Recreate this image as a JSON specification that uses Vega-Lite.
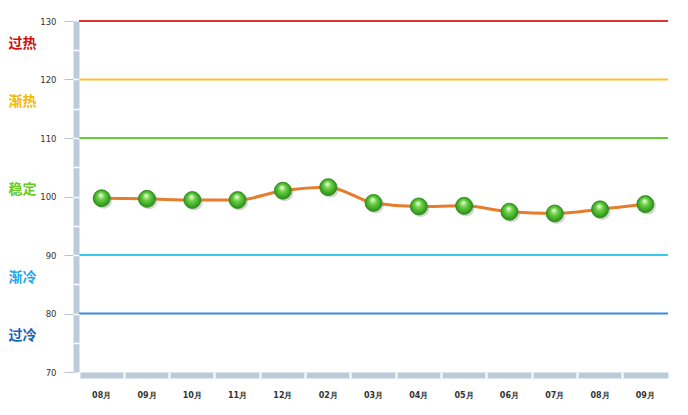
{
  "$schema": "https://vega.github.io/schema/vega-lite/v6.json",
  "autosize": "none",
  "width": 589,
  "height": 351,
  "padding": {"left": 79, "top": 21, "right": 20, "bottom": 43},
  "background": "white",
  "config": {"view": {"stroke": null}, "font": "DejaVu Sans"},
  "datasets": {
    "series": [
      {"m": "2013-08", "v": 99.7},
      {"m": "2013-09", "v": 99.6},
      {"m": "2013-10", "v": 99.4},
      {"m": "2013-11", "v": 99.4},
      {"m": "2013-12", "v": 101.0},
      {"m": "2014-02", "v": 101.6},
      {"m": "2014-03", "v": 98.9},
      {"m": "2014-04", "v": 98.3},
      {"m": "2014-05", "v": 98.4},
      {"m": "2014-06", "v": 97.4},
      {"m": "2014-07", "v": 97.1},
      {"m": "2014-08", "v": 97.8},
      {"m": "2014-09", "v": 98.7}
    ],
    "zones": [
      {"level": 130, "zone": "过热"},
      {"level": 120, "zone": "渐热"},
      {"level": 110, "zone": "稳定"},
      {"level": 90, "zone": "渐冷"},
      {"level": 80, "zone": "过冷"}
    ]
  },
  "resolve": {"axis": {"x": "independent", "y": "independent"}},
  "layer": [
    {
      "data": {"name": "zones"},
      "mark": {"type": "rule", "strokeWidth": 2},
      "encoding": {
        "y": {
          "field": "level", "type": "quantitative",
          "scale": {"domain": [70, 130], "nice": false, "zero": false},
          "axis": {"orient": "left", "offset": 3, "domain": true, "domainWidth": 6, "domainColor": "#bccbdc", "ticks": false, "labels": false, "grid": false, "title": null, "zindex": 0}
        },
        "color": {
          "field": "zone", "type": "nominal",
          "scale": {"domain": ["过热", "渐热", "稳定", "渐冷", "过冷"], "range": ["#e03434", "#ffc22a", "#66cc33", "#36cbea", "#3a8edc"]},
          "legend": null
        }
      }
    },
    {
      "data": {"name": "series"},
      "mark": {"type": "line", "interpolate": "monotone", "color": "#e67c2c", "strokeWidth": 3},
      "encoding": {
        "x": {
          "field": "m", "type": "ordinal", "sort": null,
          "scale": {"type": "band", "paddingInner": 0, "paddingOuter": 0},
          "axis": {"orient": "bottom", "offset": 3, "domain": true, "domainWidth": 6, "domainColor": "#bccbdc", "ticks": false, "labelPadding": 16, "labelAngle": 0, "labelFontSize": 8, "labelFontWeight": "bold", "labelColor": "#333333", "labelExpr": "slice(datum.value, 5) + '月'", "grid": false, "title": null, "zindex": 0}
        },
        "y": {
          "field": "v", "type": "quantitative",
          "axis": {"orient": "left", "offset": 6, "domain": false, "ticks": true, "tickColor": "white", "tickWidth": 1.5, "tickSize": -6, "values": [75, 80, 85, 90, 95, 100, 105, 110, 115, 120, 125], "labels": false, "grid": false, "title": null, "zindex": 1}
        }
      }
    },
    {
      "data": {"name": "series"},
      "mark": {"type": "point", "filled": true, "shape": "circle", "size": 290, "color": "#888888", "opacity": 0.35, "xOffset": 2, "yOffset": 2},
      "encoding": {
        "x": {
          "field": "m", "type": "ordinal", "sort": null,
          "scale": {"type": "band", "paddingInner": 0, "paddingOuter": 0},
          "axis": {"orient": "bottom", "offset": 6, "domain": false, "ticks": true, "tickColor": "white", "tickWidth": 2, "tickSize": -6, "bandPosition": 0, "labels": false, "grid": false, "title": null, "zindex": 1}
        },
        "y": {
          "field": "v", "type": "quantitative",
          "axis": {"orient": "left", "offset": 6, "domain": false, "ticks": true, "tickColor": "#b8c4d2", "tickSize": 9, "tickWidth": 1, "values": [70, 80, 90, 100, 110, 120, 130], "labelPadding": 8, "labelFontSize": 8.5, "labelColor": "#333333", "labelFlush": false, "grid": false, "title": null, "zindex": 0}
        }
      }
    },
    {
      "data": {"name": "series"},
      "mark": {
        "type": "point", "filled": true, "shape": "circle", "size": 290, "opacity": 1,
        "fill": {"gradient": "radial", "x1": 0.45, "y1": 0.3, "r1": 0.02, "x2": 0.5, "y2": 0.5, "r2": 0.55,
          "stops": [{"offset": 0, "color": "#eaffdc"}, {"offset": 0.35, "color": "#6fd048"}, {"offset": 0.85, "color": "#2f9a1c"}, {"offset": 1, "color": "#23801a"}]},
        "stroke": "#2a8a1a", "strokeWidth": 0.8
      },
      "encoding": {
        "x": {"field": "m", "type": "ordinal", "sort": null, "scale": {"type": "band", "paddingInner": 0, "paddingOuter": 0}, "axis": null},
        "y": {
          "field": "v", "type": "quantitative",
          "axis": {"orient": "left", "offset": 0, "domain": false, "ticks": false, "values": [125, 115, 100, 85, 75],
            "labelExpr": "datum.value == 125 ? '过热' : datum.value == 115 ? '渐热' : datum.value == 100 ? '稳定' : datum.value == 85 ? '渐冷' : '过冷'",
            "labelPadding": 71, "labelAlign": "left", "labelOffset": -7, "labelFontSize": 14, "labelFontWeight": "bold", "labelFont": "Noto Sans CJK SC", "labelFlush": false, "labelOverlap": false,
            "labelColor": {"condition": [
              {"test": "datum.value == 125", "value": "#cc1111"},
              {"test": "datum.value == 115", "value": "#f5b800"},
              {"test": "datum.value == 100", "value": "#66cc22"},
              {"test": "datum.value == 85", "value": "#22aaee"}
            ], "value": "#1166bb"},
            "grid": false, "title": null, "zindex": 0}
        }
      }
    }
  ]
}
